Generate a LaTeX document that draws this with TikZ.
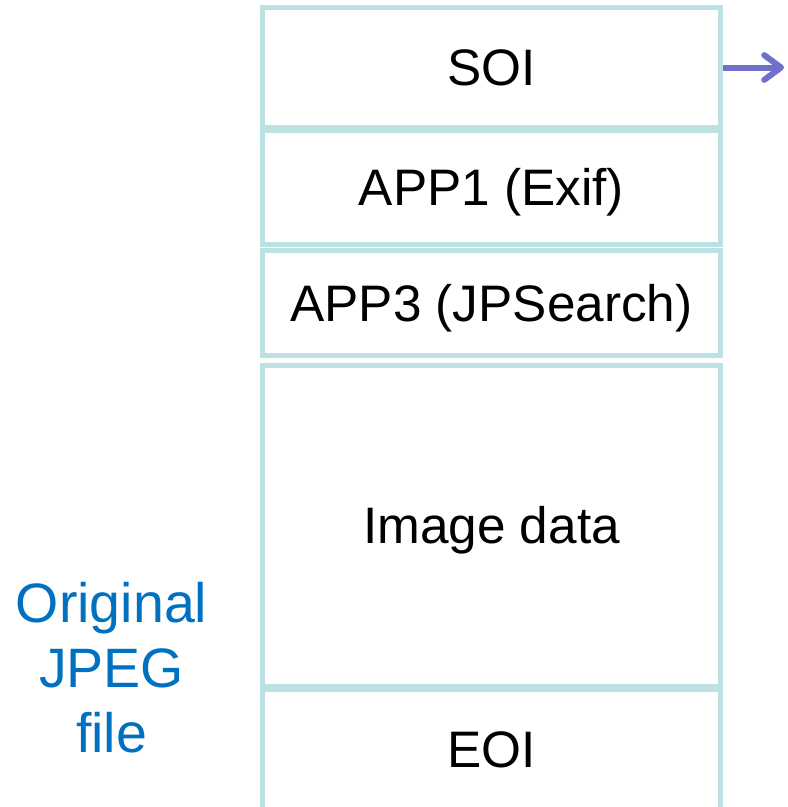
\documentclass[tikz,border=0pt]{standalone}
\usepackage{fontspec}
\setmainfont{Liberation Sans}
\usepackage{xcolor}
\usetikzlibrary{arrows.meta}
\definecolor{boxline}{RGB}{187,225,227}
\definecolor{labelblue}{RGB}{0,112,192}
\definecolor{arrowblue}{RGB}{112,112,204}

\begin{document}
\begin{tikzpicture}[-, main node/.style={rectangle, draw=boxline, line width=0.125cm, minimum width=11.45cm, inner sep=0pt, text height=26.1pt, text depth=0pt, font=\fontsize{36.5}{44}\selectfont}, side node/.style={text=labelblue, align=center, font=\fontsize{39.5}{46.2}\selectfont}]
\useasboundingbox (0,0) rectangle (19.7,-20.175);
\clip (0,0) rectangle (19.7,-20.175);
\node[main node, minimum height=3cm] (1) at (12.2875,-1.6875) {SOI};
\node[main node, minimum height=2.85cm] (2) at (12.2875,-4.6875) {APP1 (Exif)};
\node[main node, minimum height=2.6375cm] (3) at (12.2875,-7.58) {APP3 (JPSearch)};
\node[main node, minimum height=8.025cm] (4) at (12.2875,-13.1375) {Image data};
\node[main node, minimum height=3.025cm] (5) at (12.2875,-18.7375) {EOI};
\node[side node] (6) at (2.79,-16.7) {Original\\JPEG\\file};
\coordinate (7) at (19.6,-1.6875);
\draw[arrowblue, line width=0.15cm, -{Straight Barb[length=0.42cm, width=0.62cm, round]}] (1.east) -- (7);
\end{tikzpicture}
\end{document}
